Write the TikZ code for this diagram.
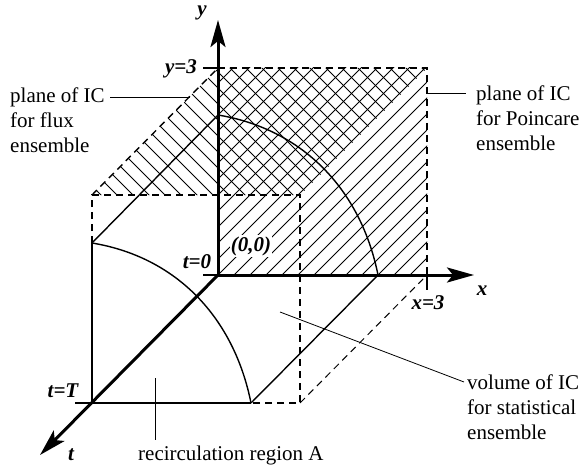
\documentclass[tikz,border=0pt]{standalone}
\usepackage{fontspec}
\setmainfont{Liberation Serif}
\usetikzlibrary{arrows.meta}
\begin{document}
\begin{tikzpicture}[x=1pt,y=-1pt,
  axis/.style={line width=3pt},
  edge/.style={line width=1.4pt},
  boxdash/.style={line width=1.4pt, dash pattern=on 7pt off 5pt},
  thindash/.style={line width=1pt, dash pattern=on 7pt off 5pt},
  hatch/.style={line width=0.9pt},
  leader/.style={line width=0.8pt},
  tip/.style={-{Stealth[length=27pt,width=15pt,inset=6pt]}},
  lab/.style={font=\fontsize{21}{25}\selectfont\bfseries\itshape, inner sep=1pt},
  txt/.style={font=\fontsize{21}{25}\selectfont, align=left, anchor=north west, inner sep=0pt}]
\useasboundingbox (0,0) rectangle (586,468);
% key points
\coordinate (O) at (218,275);
\coordinate (Y3) at (218,68);
\coordinate (X3) at (427,275);
\coordinate (C) at (427,68);
\coordinate (T) at (92,403);
\coordinate (FTL) at (92,195);
\coordinate (FTR) at (300,195);
\coordinate (FBR) at (300,403);
\coordinate (FA) at (92,243);
\coordinate (FB) at (251,403);
\coordinate (BA) at (218,115);
\coordinate (BB) at (378,275);
\coordinate (YT) at (218,20);
\coordinate (XT) at (474,275);
\coordinate (TT) at (40,455);
% Poincare plane hatching
\begin{scope}
  \clip (O) rectangle (C);
  \foreach \k in {-14,...,14}
    \draw[hatch] ({493+16*\k-300},300) -- ({493+16*\k-40},40);
\end{scope}
% flux plane hatching
\begin{scope}
  \clip (FTL) -- (Y3) -- (C) -- (FTR) -- cycle;
  \foreach \k in {-8,...,22}
    \draw[hatch] ({18+16*\k+40},40) -- ({18+16*\k+220},220);
\end{scope}
% dashed box edges
\draw[boxdash] (Y3) -- (C) -- (X3);
\draw[boxdash] (FA) -- (FTL) -- (FTR) -- (FBR) -- (FB);
\draw[boxdash] (FTL) -- (Y3);
\draw[thindash] (FBR) -- (X3);
% region A (quarter cylinder)
\draw[edge] (FA) -- (T) -- (FB);
\draw[edge] (FA) .. controls (177,257) and (234,318) .. (FB);
\draw[edge] (BA) .. controls (303,129) and (361,190) .. (BB);
\draw[edge] (FA) -- (BA);
\draw[edge] (FB) -- (BB);
% ticks
\coordinate (y3t) at (203,68);
\coordinate (t0t) at (203,275);
\coordinate (tTt) at (75,403);
\coordinate (x3t) at (427,290);
\draw[edge] (y3t) -- (Y3);
\draw[edge] (t0t) -- (O);
\draw[edge] (tTt) -- (T);
\draw[edge] (X3) -- (x3t);
% axes
\draw[axis,tip] (O) -- (YT);
\draw[axis,tip] (O) -- (XT);
\draw[axis,tip] (O) -- (TT);
% axis labels
\node[lab] (ylab) at (202,13) {y};
\node[lab] (y3lab) at (181,69) {y=3};
\node[lab] (xlab) at (482,291) {x};
\node[lab] (x3lab) at (428,303) {x=3};
\node[lab] (tlab) at (71,455) {t};
\node[lab] (tTlab) at (63,391) {t=T};
\node[lab] (t0lab) at (197,262) {t=0};
\node[lab, fill=white] (olab) at (251,246) {(0,0)};
% text labels
\node[txt] (flux) at (10,88) {plane of IC\\for flux\\ensemble};
\node[txt] (poinc) at (476,86) {plane of IC\\for Poincare\\ensemble};
\node[txt] (vol) at (467,375) {volume of IC\\for statistical\\ensemble};
\node[txt, anchor=base west] (recirc) at (138,460) {recirculation region A};
% leaders
\coordinate (fl1) at (110,97);
\coordinate (fl2) at (190,97);
\coordinate (pl1) at (427,93);
\coordinate (pl2) at (466,93);
\coordinate (vl1) at (280,312);
\coordinate (vl2) at (464,382);
\coordinate (rl1) at (155,378);
\coordinate (rl2) at (155,440);
\draw[leader] (fl1) -- (fl2);
\draw[leader] (pl1) -- (pl2);
\draw[leader] (vl1) -- (vl2);
\draw[leader] (rl1) -- (rl2);
\end{tikzpicture}
\end{document}
